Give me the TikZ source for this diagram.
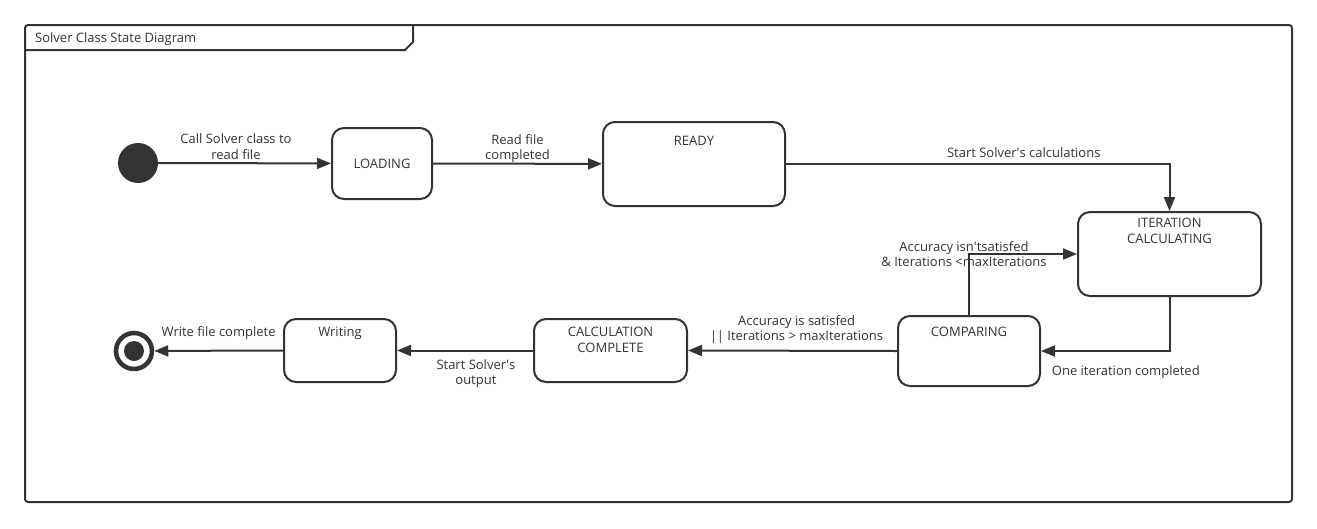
\documentclass[tikz,border=0pt]{standalone}
\usepackage{fontspec}
\setmainfont{Open Sans}
\usetikzlibrary{arrows.meta}
\definecolor{ink}{HTML}{333333}
\begin{document}
\begin{tikzpicture}[x=1pt,y=-1pt,
  state/.style={draw=ink, line width=2pt, rounded corners=12pt, fill=white, text=ink, font=\fontsize{13}{15.5}\selectfont},
  trans/.style={draw=ink, line width=2pt, -{Triangle[length=14pt,width=11pt]}},
  lbl/.style={text=ink, font=\fontsize{13}{15.5}\selectfont, align=center, inner sep=0pt},
  toplbl/.style={lbl, anchor=north, yshift=#1}
]
\useasboundingbox (0,0) rectangle (1317,528);
% Rahmen mit Titel
\draw[ink, line width=2pt, rounded corners=3pt] (25,25) rectangle (1292,502);
\draw[ink, line width=2pt] (25,50) -- (405,50) -- (413,42) -- (413,25);
\node[lbl, anchor=west] (title) at (35,39) {Solver Class State Diagram};
% Start- und Endzustand
\node[circle, fill=ink, minimum size=40pt, inner sep=0pt] (start) at (138,163) {};
\node[circle, draw=ink, line width=4.5pt, fill=white, minimum size=36pt, inner sep=0pt] (stop) at (134,351) {};
\node[circle, fill=ink, minimum size=20pt, inner sep=0pt] (stopdot) at (stop) {};
% Zustaende
\node[state, minimum width=100pt, minimum height=71pt] (loading) at (382,163.5) {LOADING};
\node[state, minimum width=182pt, minimum height=84pt,
  label={[toplbl=-15pt]north:READY}] (ready) at (694,164) {};
\node[state, minimum width=183pt, minimum height=84pt,
  label={[toplbl=-7pt]north:ITERATION\\CALCULATING}] (iter) at (1169.5,254) {};
\node[state, minimum width=142pt, minimum height=70pt,
  label={[toplbl=-12pt]north:COMPARING}] (comp) at (969,351) {};
\node[state, minimum width=153pt, minimum height=63pt,
  label={[toplbl=-9pt]north:CALCULATION\\COMPLETE}] (calc) at (610.5,350.5) {};
\node[state, minimum width=112pt, minimum height=63pt,
  label={[toplbl=-9pt]north:Writing}] (writing) at (340,350.5) {};
% Uebergaenge
\draw[trans] (start) -- (loading)
  node[lbl, pos=0.45, above=3pt] {Call Solver class to\\read file};
\draw[trans] (loading) -- (ready)
  node[lbl, midway, above=0pt] {Read file\\completed};
\draw[trans] (ready.east) -| (iter.north)
  node[lbl, pos=0.31, above=5pt] {Start Solver\textquotesingle s calculations};
\draw[trans] (iter.south) |- (comp.east)
  node[lbl, pos=0.67, below=14pt] {One iteration completed};
\draw[trans] (comp.north) |- (iter.west)
  node[lbl, pos=0.5, xshift=-5pt] {Accuracy isn\textquotesingle tsatisfed\\\& Iterations <maxIterations};
\draw[trans] (comp.west) -- (calc.east)
  node[lbl, pos=0.48, above=6pt] {Accuracy is satisfed\\\textbar\kern-0.5pt\textbar{} Iterations > maxIterations};
\draw[trans] (calc.west) -- (writing.east)
  node[lbl, pos=0.42, below=8pt] {Start Solver\textquotesingle s\\output};
\draw[trans] (writing.west) -- (stop)
  node[lbl, midway, above=10pt] {Write file complete};
\end{tikzpicture}
\end{document}
